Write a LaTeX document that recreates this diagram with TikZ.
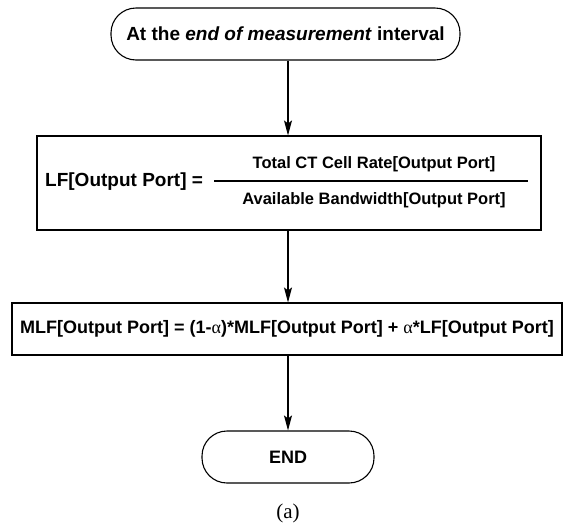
\documentclass[tikz,border=0pt]{standalone}
\usepackage{fontspec}
\setmainfont{Liberation Sans}
\newfontfamily\serifcap{Liberation Serif}
\usetikzlibrary{arrows.meta}
\tikzset{
  every node/.style={font=\fontsize{18}{21}\selectfont\bfseries, inner sep=0pt},
  terminal/.style={draw, line width=1.1pt, rounded corners=25pt, minimum height=52pt},
  procbox/.style={draw, line width=1.1pt, rectangle},
  flow/.style={line width=1.1pt, -{Stealth[length=15pt,width=8pt,inset=3pt]}},
  plain/.style={draw=none},
  bigtext/.style={font=\fontsize{19}{22}\selectfont\bfseries},
  fractext/.style={font=\fontsize{16.5}{20}\selectfont\bfseries},
}
\newcommand{\alp}{{\serifcap\mdseries α}}
\begin{document}
\begin{tikzpicture}[x=1pt,y=-1pt]
\useasboundingbox (0,0) rectangle (567,528);
\node[terminal, bigtext, minimum width=349pt] (start) at (285.5,34) {At the \emph{end of measurement} interval};
\node[procbox, minimum width=504pt, minimum height=94pt] (lf) at (289,183) {};
\node[plain, bigtext, anchor=west] (lflabel) at (45,182) {LF[Output Port] =};
\node[plain, fractext] (num) at (374,164) {Total CT Cell Rate[Output Port]};
\node[plain, fractext] (den) at (374,200) {Available Bandwidth[Output Port]};
\coordinate (fl) at (214,181);
\coordinate (fr) at (528,181);
\draw[line width=1.1pt] (fl) -- (fr);
\node[procbox, minimum width=550pt, minimum height=52pt] (mlf) at (287,329) {MLF[Output Port] = (1-\alp)*MLF[Output Port] + \alp*LF[Output Port]};
\node[terminal, minimum width=172pt] (end) at (288,457) {END};
\node[plain, font=\serifcap\fontsize{21}{24}\selectfont] (cap) at (288,513) {(a)};
\draw[flow] (start.south -| 288,0) -- (lf.north -| 288,0);
\draw[flow] (lf.south -| 288,0) -- (mlf.north -| 288,0);
\draw[flow] (mlf.south -| 288,0) -- (end.north -| 288,0);
\end{tikzpicture}
\end{document}
